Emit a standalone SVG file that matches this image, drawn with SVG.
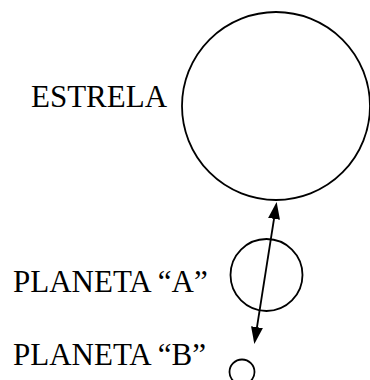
<svg xmlns="http://www.w3.org/2000/svg" width="370" height="380" viewBox="0 0 370 380">
<style>
.body{fill:none;stroke:#000;stroke-width:1.8}
.lbl{font-family:"Liberation Serif","Times New Roman",serif;font-size:31px;fill:#000}
.conn{stroke:#000;stroke-width:1.8;fill:none}
</style>
<defs>
<marker id="ah" viewBox="0 0 17 12" refX="14" refY="6" markerWidth="17" markerHeight="12" markerUnits="userSpaceOnUse" orient="auto-start-reverse">
<path d="M0,0 L17,6 L0,12 z" fill="#000"/>
</marker>
</defs>
<rect width="370" height="380" fill="#fff"/>
<g id="estrela">
<circle class="body" cx="276" cy="106" r="94"/>
<text class="lbl" x="31" y="107">ESTRELA</text>
</g>
<g id="planeta-a">
<circle class="body" cx="266.5" cy="275" r="36"/>
<text class="lbl" x="13" y="292">PLANETA “A”</text>
</g>
<g id="planeta-b">
<circle class="body" cx="242" cy="372" r="12.5"/>
<text class="lbl" x="13" y="365">PLANETA “B”</text>
</g>
<g id="connectors">
<line class="conn" x1="276.2" y1="205" x2="254.8" y2="341" marker-start="url(#ah)" marker-end="url(#ah)"/>
</g>
</svg>
